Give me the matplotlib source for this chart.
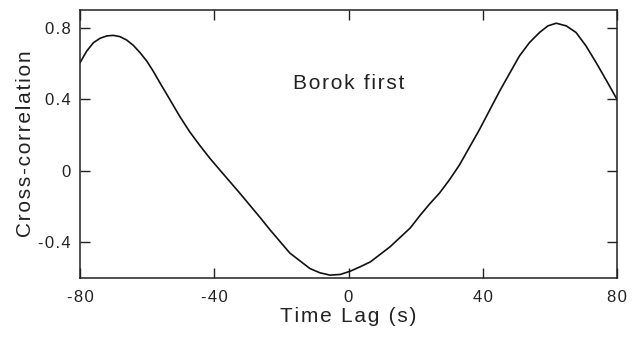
import matplotlib
matplotlib.use("Agg")
import matplotlib.pyplot as plt

plt.rcParams["font.family"] = ["Liberation Sans", "DejaVu Sans"]
plt.rcParams["axes.unicode_minus"] = False

# cross-correlation
lag = [-80, -78, -76, -74, -72, -70.1, -68.1, -66.1, -64.1, -62.1, -60.1, -58.2,
       -56.2, -53.2, -50.3, -47.3, -44.3, -41.3, -38.4, -32.4, -26.4, -23.4,
       -17.5, -11.5, -8.5, -5.5, -2.4, 0.5, 3.5, 6.5, 12.4, 18.4, 21.3, 24.2,
       27.1, 30.1, 33.1, 39.0, 45.0, 50.9, 53.9, 56.9, 59.4, 61.9, 64.9, 67.8,
       70.8, 73.8, 76.8, 80]
xcorr = [0.605, 0.670, 0.717, 0.742, 0.755, 0.758, 0.751, 0.732, 0.702, 0.661,
         0.614, 0.558, 0.493, 0.398, 0.305, 0.218, 0.142, 0.07, 0.006, -0.125,
         -0.26, -0.33, -0.46, -0.547, -0.571, -0.584, -0.58, -0.562, -0.537,
         -0.51, -0.425, -0.32, -0.25, -0.185, -0.125, -0.05, 0.034, 0.23, 0.445,
         0.642, 0.717, 0.774, 0.811, 0.826, 0.811, 0.774, 0.698, 0.605, 0.507, 0.40]

xticks = [-80, -40, 0, 40, 80]
yticks = [-0.4, 0, 0.4, 0.8]
yticklabels = ["-0.4", "0", "0.4", "0.8"]


def spaced(s):
    # the original lettering is loosely tracked
    return "\u200a".join(s)


fig = plt.figure(figsize=(6.37, 3.38), dpi=100)
ax = fig.add_axes([80 / 637, 1 - 278 / 338, 537 / 637, 268 / 338])

ax.plot(lag, xcorr, color="#111111", lw=1.2)

ax.set_xlim(-80, 80)
ax.set_ylim(-0.6, 0.9)
ax.set_xticks(xticks)
ax.set_xticklabels([spaced(str(t)) for t in xticks])
ax.set_yticks(yticks)
ax.set_yticklabels([spaced(t) for t in yticklabels])

ax.tick_params(direction="in", length=7, width=1.0, top=True, right=True,
               labelsize=12, colors="#222222")
ax.tick_params(axis="x", pad=9)
ax.tick_params(axis="y", pad=7)
for s in ax.spines.values():
    s.set_linewidth(1.1)
    s.set_color("#222222")

ax.set_xlabel(spaced("Time Lag (s)"), fontsize=15, color="#222222", labelpad=1)
ax.set_ylabel(spaced("Cross-correlation"), fontsize=15, color="#222222", labelpad=2)
ax.text(0, 0.49, spaced("Borok first"), fontsize=15, ha="center", va="center",
        color="#222222")

fig.savefig("out.png", dpi=100)
